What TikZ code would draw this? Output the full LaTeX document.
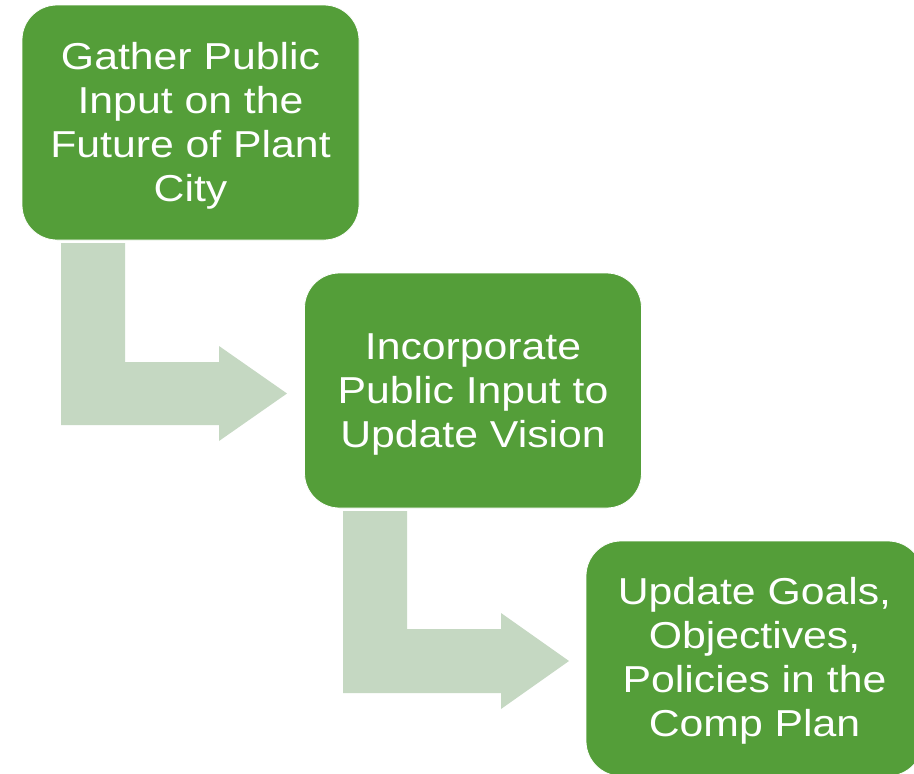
\documentclass[tikz,border=0pt]{standalone}
\usepackage{fontspec}
\setmainfont{Liberation Sans}
\newfontfamily\boxfont[FakeStretch=1.14]{Liberation Sans}
\definecolor{boxgreen}{HTML}{549E39}
\definecolor{arrowgreen}{HTML}{C5D8C2}
\begin{document}
\begin{tikzpicture}[x=1pt,y=-1pt,
  stepbox/.style={rectangle, rounded corners=35pt, fill=boxgreen, draw=white, line width=0.8pt,
    minimum width=337pt, minimum height=235pt, inner sep=0pt},
  steptext/.style={align=center, text=white, inner sep=0pt,
    font=\boxfont\fontsize{37.5}{44}\selectfont},
  bentarrow/.style={fill=arrowgreen, draw=none}]
\useasboundingbox (0,0) rectangle (914,774);
\clip (0,0) rectangle (914,774);
\fill[white] (0,0) rectangle (914,774);
% bent arrows
\path[bentarrow] (61,243) -- (125,243) -- (125,362) -- (219,362) -- (219,346) -- (287,393.5)
  -- (219,441) -- (219,425) -- (61,425) -- cycle;
\path[bentarrow] (343,511) -- (407,511) -- (407,629) -- (501,629) -- (501,613) -- (569,661)
  -- (501,709) -- (501,693) -- (343,693) -- cycle;
% boxes
\node[stepbox] (gather) at (190.5,122.5) {};
\node[stepbox] (incorp) at (473,390.5) {};
\node[stepbox] (update) at (754.5,658.5) {};
% texts
\node[steptext] (gathertext) at ([yshift=-3pt]gather.center) {Gather Public\\Input on the\\Future of Plant\\City};
\node[steptext] (incorptext) at ([yshift=-3.5pt]incorp.center) {Incorporate\\Public Input to\\Update Vision};
\node[steptext] (updatetext) at ([yshift=-2pt]update.center) {Update Goals,\\Objectives,\\Policies in the\\Comp Plan};
\end{tikzpicture}
\end{document}
